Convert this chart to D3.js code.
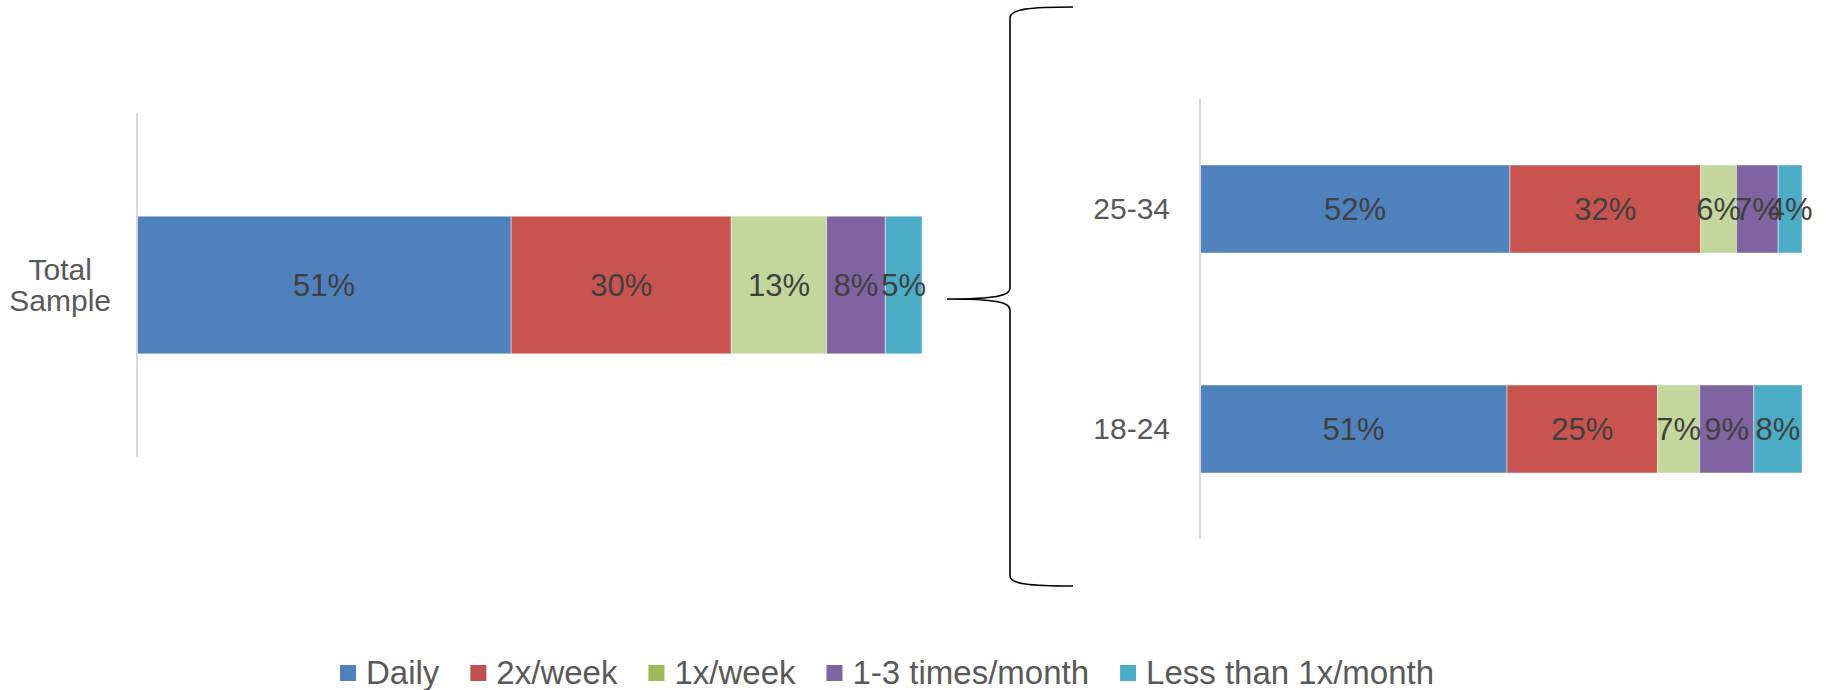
<!DOCTYPE html>
<html>
<head>
<meta charset="utf-8">
<script src="https://cdn.jsdelivr.net/npm/d3@7"></script>
<style>
  html, body { margin: 0; padding: 0; background: #ffffff; }
  svg { display: block; }
</style>
</head>
<body>
<svg id="chart" width="1839" height="690"></svg>
<script>
// ---- Data ----
const seriesNames = ["Daily", "2x/week", "1x/week", "1-3 times/month", "Less than 1x/month"];
const leftCategories = ["Total Sample"];
const rightCategories = ["25-34", "18-24"];
const categories = ["Total Sample", "25-34", "18-24"];
const daily      = [51, 52, 51];
const twoPerWeek = [30, 32, 25];
const onePerWeek = [13, 6, 7];
const oneToThree = [8, 7, 9];
const lessThan   = [5, 4, 8];
const barColors    = ["#4F81BD", "#C9544F", "#C3D69B", "#8064A2", "#4BACC6"];
const legendColors = ["#4F81BD", "#C0504D", "#9BBB59", "#8064A2", "#4BACC6"];

const seriesValues = [daily, twoPerWeek, onePerWeek, oneToThree, lessThan];
const rows = categories.map((c, i) => {
  const r = { category: c };
  seriesNames.forEach((s, j) => { r[s] = seriesValues[j][i]; });
  return r;
});

const svg = d3.select("#chart");
const FONT = "'Liberation Sans', Arial, Helvetica, sans-serif";

const stack = d3.stack().keys(seriesNames).offset(d3.stackOffsetExpand);

function drawPanel(cats, x0, x1, y0, y1, labelGap) {
  const data = rows.filter(r => cats.includes(r.category));
  const stacked = stack(data);
  const x = d3.scaleLinear().domain([0, 1]).range([x0, x1]);
  const y = d3.scaleBand().domain(cats).range([y0, y1]).paddingInner(0.6).paddingOuter(0.3);
  const g = svg.append("g");

  // segments
  const layers = g.selectAll("g.layer").data(stacked).enter().append("g")
    .attr("fill", (d, i) => barColors[i]);
  layers.selectAll("rect").data(d => d).enter().append("rect")
    .attr("x", d => x(d[0]))
    .attr("y", d => y(d.data.category))
    .attr("width", d => x(d[1]) - x(d[0]))
    .attr("height", y.bandwidth())
    .attr("stroke", "#ffffff")
    .attr("stroke-opacity", 0.45)
    .attr("stroke-width", 1);

  // value labels
  stacked.forEach((layer) => {
    g.selectAll(null).data(layer).enter().append("text")
      .attr("x", d => (x(d[0]) + x(d[1])) / 2)
      .attr("y", d => y(d.data.category) + y.bandwidth() / 2 + 11)
      .attr("text-anchor", "middle")
      .attr("font-family", FONT)
      .attr("font-size", 31)
      .attr("fill", "#404040")
      .text(d => d.data[layer.key] + "%");
  });

  // axis line
  g.append("line")
    .attr("x1", x0).attr("x2", x0)
    .attr("y1", y0).attr("y2", y1)
    .attr("stroke", "#D9D9D9").attr("stroke-width", 2);

  // category labels (wrapped on spaces when long)
  cats.forEach(c => {
    const cy = y(c) + y.bandwidth() / 2;
    const words = c.split(" ");
    const lines = words.length > 1 ? words : [c];
    const t = g.append("g");
    const lineH = 31;
    const texts = lines.map((ln, k) => t.append("text")
      .attr("y", cy + 10 + (k - (lines.length - 1) / 2) * lineH)
      .attr("font-family", FONT)
      .attr("font-size", 30)
      .attr("fill", "#595959")
      .text(ln));
    const widths = texts.map(tx => tx.node().getComputedTextLength());
    const maxW = d3.max(widths);
    const cx = x0 - labelGap - maxW / 2;
    texts.forEach(tx => tx.attr("x", cx).attr("text-anchor", "middle"));
  });
}

drawPanel(leftCategories, 137, 922, 113, 457, 26);
drawPanel(rightCategories, 1200, 1802, 99, 539, 30);

// ---- Brace ----
const brace = d3.path();
brace.moveTo(1073, 7);
brace.bezierCurveTo(1030, 7, 1010, 9, 1010, 18);
brace.lineTo(1010, 288);
brace.bezierCurveTo(1010, 296, 995, 299, 947, 299);
brace.bezierCurveTo(995, 299, 1010, 302, 1010, 310);
brace.lineTo(1010, 576);
brace.bezierCurveTo(1010, 584, 1030, 586, 1073, 586);
svg.append("path")
  .attr("d", brace.toString())
  .attr("fill", "none")
  .attr("stroke", "#000000")
  .attr("stroke-width", 1.6);

// ---- Legend ----
const legend = svg.append("g");
let lx = 340;
const ly = 673;
seriesNames.forEach((s, i) => {
  legend.append("rect")
    .attr("x", lx).attr("y", ly - 8)
    .attr("width", 16).attr("height", 16)
    .attr("fill", legendColors[i]);
  const t = legend.append("text")
    .attr("x", lx + 26).attr("y", ly + 11)
    .attr("font-family", FONT)
    .attr("font-size", 33)
    .attr("fill", "#595959")
    .text(s);
  lx = lx + 26 + t.node().getComputedTextLength() + 31;
});
</script>
</body>
</html>
